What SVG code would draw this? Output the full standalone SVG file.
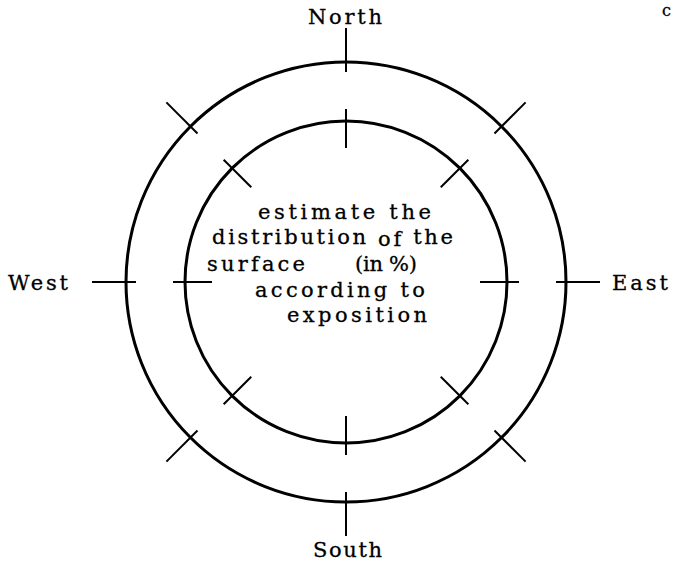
<svg xmlns="http://www.w3.org/2000/svg" width="676" height="567" viewBox="0 0 676 567">
<style>
.ring{fill:none;stroke:#000;stroke-width:3}
.tick{stroke:#000;stroke-width:2;stroke-linecap:butt}
.lbl{font-family:"DejaVu Serif","Liberation Serif",serif;font-size:21px;fill:#000;stroke:#000;stroke-width:0.3}
</style>
<defs>
<g id="tickpair">
<line class="tick" x1="480" y1="282" x2="519" y2="282"/>
<line class="tick" x1="556" y1="282" x2="600" y2="282"/>
</g>
</defs>
<rect width="676" height="567" fill="#fff"/>
<g id="outer-circle"><circle class="ring" cx="346" cy="282" r="220"/></g>
<g id="inner-circle"><circle class="ring" cx="346" cy="282" r="161"/></g>
<g id="ticks">
<use href="#tickpair"/>
<use href="#tickpair" transform="rotate(45 346 282)"/>
<use href="#tickpair" transform="rotate(90 346 282)"/>
<use href="#tickpair" transform="rotate(135 346 282)"/>
<use href="#tickpair" transform="rotate(180 346 282)"/>
<use href="#tickpair" transform="rotate(225 346 282)"/>
<use href="#tickpair" transform="rotate(270 346 282)"/>
<use href="#tickpair" transform="rotate(315 346 282)"/>
</g>
<g id="labels">
<text class="lbl" x="308" y="24" textLength="74" lengthAdjust="spacing">North</text>
<text class="lbl" x="313" y="557" textLength="69" lengthAdjust="spacing">South</text>
<text class="lbl" x="612" y="290" textLength="56" lengthAdjust="spacing">East</text>
<text class="lbl" x="8" y="290" textLength="60" lengthAdjust="spacing">West</text>
<text class="lbl" x="662" y="16" style="font-size:16px">c</text>
</g>
<g id="center-text">
<text class="lbl" x="258" y="219" textLength="173" lengthAdjust="spacing">estimate the</text>
<text class="lbl" x="212" y="244" textLength="241" lengthAdjust="spacing">distribution <tspan dy="2">of</tspan><tspan dy="-2"> the</tspan></text>
<text class="lbl" x="207" y="271" textLength="98" lengthAdjust="spacing">surface</text>
<text class="lbl" x="355" y="271" textLength="62" lengthAdjust="spacing">(in %)</text>
<text class="lbl" x="255" y="297" textLength="170" lengthAdjust="spacing">according to</text>
<text class="lbl" x="287" y="322" textLength="140" lengthAdjust="spacing">exposition</text>
</g>
</svg>
